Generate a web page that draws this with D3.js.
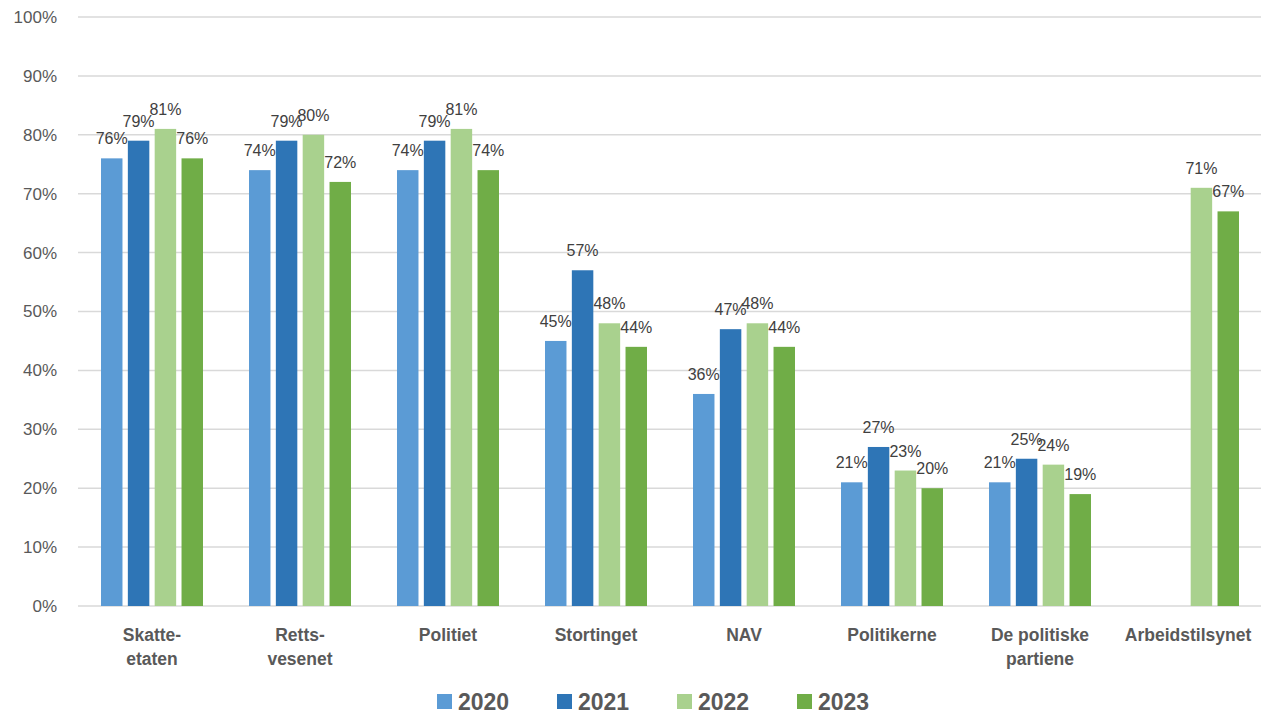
<!DOCTYPE html>
<html>
<head>
<meta charset="utf-8">
<script src="https://cdn.jsdelivr.net/npm/d3@7"></script>
<style>
  body { margin: 0; background: #fff; }
  svg { display: block; font-family: "Liberation Sans", Arial, sans-serif; }
</style>
</head>
<body>
<div id="chart"></div>
<script>
const categories = ["Skatteetaten", "Rettsvesenet", "Politiet", "Stortinget", "NAV",
    "Politikerne", "De politiske partiene", "Arbeidstilsynet"];
const categoryLines = [["Skatte-", "etaten"], ["Retts-", "vesenet"], ["Politiet"], ["Stortinget"], ["NAV"],
    ["Politikerne"], ["De politiske", "partiene"], ["Arbeidstilsynet"]];
const years = ["2020", "2021", "2022", "2023"];
const values2020 = [76, 74, 74, 45, 36, 21, 21, null];
const values2021 = [79, 79, 79, 57, 47, 27, 25, null];
const values2022 = [81, 80, 81, 48, 48, 23, 24, 71];
const values2023 = [76, 72, 74, 44, 44, 20, 19, 67];
const yTicks = [0, 10, 20, 30, 40, 50, 60, 70, 80, 90, 100];
const colors = ["#5B9BD5", "#2E75B6", "#A9D18E", "#70AD47"];

const series = [values2020, values2021, values2022, values2023];
const rows = [];
categories.forEach((c, i) => {
    years.forEach((yr, j) => {
        if (series[j][i] != null) rows.push({cat: c, year: yr, value: series[j][i]});
    });
});

const width = 1261, height = 714;
const margin = {top: 17, right: -1, bottom: 108, left: 78};
const textColor = "#595959";

const svg = d3.select("#chart").append("svg")
    .attr("width", width)
    .attr("height", height);

const x0 = d3.scaleBand()
    .domain(categories)
    .range([margin.left, width - margin.right]);

const x1 = d3.scaleBand()
    .domain(years)
    .range([23, x0.bandwidth() - 23])
    .paddingInner(0.2);

const y = d3.scaleLinear()
    .domain([0, 100])
    .range([height - margin.bottom, margin.top]);

const z = d3.scaleOrdinal().domain(years).range(colors);

// gridlines + y labels
const yAxis = svg.append("g").attr("class", "yAxis");
yAxis.selectAll("line")
    .data(yTicks)
    .enter().append("line")
    .attr("x1", margin.left)
    .attr("x2", width - margin.right)
    .attr("y1", d => y(d))
    .attr("y2", d => y(d))
    .attr("stroke", "#d9d9d9")
    .attr("stroke-width", 1.5);

yAxis.selectAll("text")
    .data(yTicks)
    .enter().append("text")
    .attr("x", 57)
    .attr("y", d => y(d))
    .attr("dy", "0.35em")
    .attr("text-anchor", "end")
    .attr("font-size", 17)
    .attr("fill", textColor)
    .text(d => d + "%");

// bars
const bars = svg.append("g").attr("class", "bars")
    .selectAll("rect")
    .data(rows)
    .enter().append("rect")
    .attr("x", d => x0(d.cat) + x1(d.year))
    .attr("y", d => y(d.value))
    .attr("width", x1.bandwidth())
    .attr("height", d => y(0) - y(d.value))
    .attr("fill", d => z(d.year));

// data labels
svg.append("g").attr("class", "labels")
    .selectAll("text")
    .data(rows)
    .enter().append("text")
    .attr("x", d => x0(d.cat) + x1(d.year) + x1.bandwidth() / 2)
    .attr("y", d => y(d.value) - 14)
    .attr("text-anchor", "middle")
    .attr("font-size", 16)
    .attr("fill", "#404040")
    .text(d => d.value + "%");

// category labels
const xAxis = svg.append("g").attr("class", "xAxis");
xAxis.selectAll("text")
    .data(categories)
    .enter().append("text")
    .attr("x", d => x0(d) + x0.bandwidth() / 2)
    .attr("y", 641)
    .attr("text-anchor", "middle")
    .attr("font-size", 17.5)
    .attr("font-weight", "bold")
    .attr("fill", textColor)
    .each(function (d, i) {
        const t = d3.select(this);
        categoryLines[i].forEach((line, k) => {
            t.append("tspan")
                .attr("x", x0(d) + x0.bandwidth() / 2)
                .attr("dy", k === 0 ? 0 : 24)
                .text(line);
        });
    });

// legend
const legend = svg.append("g")
    .attr("class", "legend")
    .selectAll("g")
    .data(years)
    .enter().append("g")
    .attr("transform", (d, i) => "translate(" + (437 + i * 120) + ",694)");

legend.append("rect")
    .attr("width", 15)
    .attr("height", 15)
    .attr("fill", z);

legend.append("text")
    .attr("x", 21)
    .attr("y", 7.5)
    .attr("dy", "0.36em")
    .attr("font-size", 23)
    .attr("font-weight", "bold")
    .attr("fill", textColor)
    .text(d => d);
</script>
</body>
</html>
